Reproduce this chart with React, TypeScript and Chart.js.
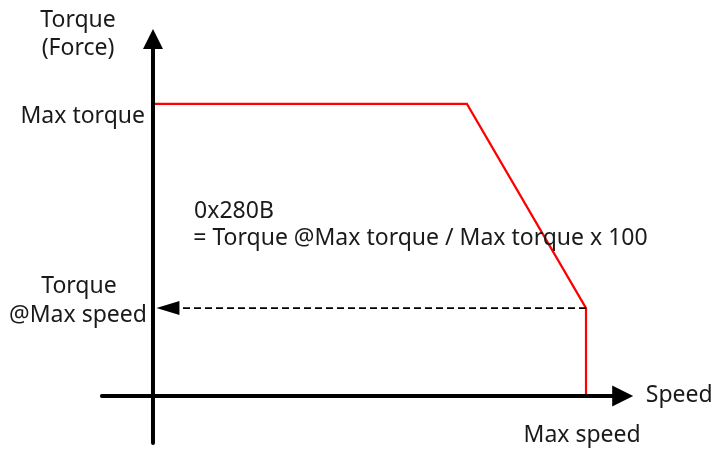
import React, { useEffect, useRef } from "react";
import { Chart, registerables } from "chart.js";

Chart.register(...registerables);

// Normalised units: speed 0..100 (Max speed = 100), torque 0..100 (Max torque = 100)
const curveSpeed = [0, 72.5, 100, 100];
const curveTorque = [100, 100, 30.1, 0];
const maxSpeed = 100;
const torqueAtMaxSpeed = 30.1;
const vAxisSpeed = [0, 0];
const vAxisTorque = [-16.1, 125.7];
const hAxisSpeed = [-11.8, 110.9];
const hAxisTorque = [0, 0];
const dashSpeed = [100, 0.8];
const dashTorque = [torqueAtMaxSpeed, torqueAtMaxSpeed];

const xRange = [-35.33, 129.56];
const yRange = [-18.5, 135.6];

const FONT = '"Noto Sans", "Open Sans", sans-serif';

type Lbl = { text: string; x: number; y: number; align: CanvasTextAlign };
const labels: Lbl[] = [
  { text: "Torque", x: -17.3, y: 126.4, align: "center" },
  { text: "(Force)", x: -17.3, y: 116.8, align: "center" },
  { text: "Max torque", x: -1.85, y: 93.4, align: "right" },
  { text: "Torque", x: -17.1, y: 35.3, align: "center" },
  { text: "@Max speed", x: -1.4, y: 25.3, align: "right" },
  { text: "0x280B", x: 9.5, y: 60.8, align: "left" },
  { text: "= Torque @Max torque / Max torque x 100", x: 9.3, y: 51.7, align: "left" },
  { text: "Speed", x: 113.8, y: -2.1, align: "left" },
  { text: "Max speed", x: maxSpeed - 0.9, y: -15.8, align: "center" },
];

const zip = (xs: number[], ys: number[]) => xs.map((x, i) => ({ x, y: ys[i] }));

const overlay = {
  id: "overlay",
  afterDatasetsDraw(chart: any) {
    const { ctx, scales } = chart;
    const sx = scales.x, sy = scales.y;
    const px = (v: number) => sx.getPixelForValue(v);
    const py = (v: number) => sy.getPixelForValue(v);
    ctx.save();
    ctx.fillStyle = "#000";
    // Up arrow on torque axis
    const tx = px(0), ty = py(vAxisTorque[1]);
    ctx.beginPath();
    ctx.moveTo(tx, ty);
    ctx.lineTo(tx - 10, ty + 20);
    ctx.lineTo(tx + 10, ty + 20);
    ctx.closePath();
    ctx.fill();
    // Right arrow on speed axis
    const rx = px(hAxisSpeed[1]), ry = py(0);
    ctx.beginPath();
    ctx.moveTo(rx, ry);
    ctx.lineTo(rx - 21, ry - 10.5);
    ctx.lineTo(rx - 21, ry + 10.5);
    ctx.closePath();
    ctx.fill();
    // Left arrow of dashed line
    const lx = px(dashSpeed[1]), ly = py(torqueAtMaxSpeed);
    ctx.beginPath();
    ctx.moveTo(lx, ly);
    ctx.lineTo(lx + 23, ly - 7);
    ctx.lineTo(lx + 23, ly + 7);
    ctx.closePath();
    ctx.fill();
    // Labels
    ctx.fillStyle = "#1a1a1a";
    ctx.font = `23px ${FONT}`;
    ctx.textBaseline = "alphabetic";
    for (const l of labels) {
      ctx.textAlign = l.align;
      ctx.fillText(l.text, px(l.x), py(l.y));
    }
    ctx.restore();
  },
};

export default function App() {
  const ref = useRef<HTMLCanvasElement>(null);
  useEffect(() => {
    document.body.style.margin = "0";
    const dashStart = { x: dashSpeed[0], y: dashTorque[0] };
    const dashEnd = { x: dashSpeed[1] + 23 / 4.33, y: dashTorque[1] };
    const chart = new Chart(ref.current!, {
      type: "scatter",
      data: {
        datasets: [
          {
            data: [dashStart, dashEnd],
            showLine: true,
            borderColor: "#000",
            borderWidth: 1.6,
            borderDash: [7, 4],
            pointRadius: 0,
          },
          {
            data: zip(vAxisSpeed, [vAxisTorque[0], vAxisTorque[1] - 4]),
            showLine: true,
            borderColor: "#000",
            borderWidth: 4,
            borderCapStyle: "round",
            pointRadius: 0,
          },
          {
            data: zip([hAxisSpeed[0], hAxisSpeed[1] - 3], hAxisTorque),
            showLine: true,
            borderColor: "#000",
            borderWidth: 4,
            borderCapStyle: "round",
            pointRadius: 0,
          },
          {
            data: zip(curveSpeed, curveTorque),
            showLine: true,
            borderColor: "#ff0000",
            borderWidth: 2.2,
            pointRadius: 0,
            tension: 0,
          },
        ],
      },
      options: {
        animation: false,
        responsive: false,
        layout: { padding: 0 },
        plugins: { legend: { display: false }, tooltip: { enabled: false } },
        scales: {
          x: { type: "linear", display: false, min: xRange[0], max: xRange[1] },
          y: { type: "linear", display: false, min: yRange[0], max: yRange[1] },
        },
      },
      plugins: [overlay],
    });
    return () => chart.destroy();
  }, []);
  return (
    <div style={{ width: 714, height: 450, background: "#fff" }}>
      <canvas ref={ref} width={714} height={450} />
    </div>
  );
}
